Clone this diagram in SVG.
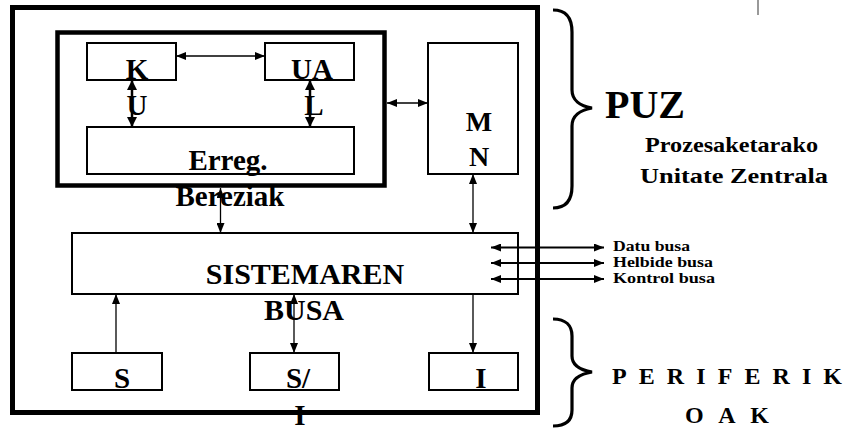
<svg xmlns="http://www.w3.org/2000/svg" width="847" height="429" viewBox="0 0 847 429">
<style>
.box{fill:#fff;stroke:#000;stroke-width:2}
.t{font-family:"Liberation Serif","Times New Roman",serif;font-weight:bold;fill:#000}
.big{font-size:29px;text-anchor:middle}
.mid{font-size:28px;text-anchor:middle}
.sm{font-size:14px}
.conn{stroke:#000;stroke-width:1.3;fill:none}
.heavy{stroke:#000;stroke-width:2.5;fill:none}
.brace{stroke:#000;stroke-width:3.2;fill:none}
</style>
<defs>
<marker id="ah" markerUnits="userSpaceOnUse" viewBox="0 0 10 8" refX="10" refY="4" markerWidth="10" markerHeight="8" orient="auto-start-reverse"><path d="M0,0 L10,4 L0,8 Z" fill="#000"/></marker>
<marker id="ahh" markerUnits="userSpaceOnUse" viewBox="0 0 10 10" refX="10" refY="5" markerWidth="11" markerHeight="10" orient="auto-start-reverse"><path d="M0,0 L10,5 L0,10 Z" fill="#000"/></marker>
</defs>
<rect width="847" height="429" fill="#fff"/>
<line x1="758" y1="0" x2="758" y2="15" stroke="#777" stroke-width="1.5"/>

<g id="outer"><rect x="12.5" y="7.5" width="525" height="405" fill="none" stroke="#000" stroke-width="5"/></g>
<g id="cpu"><rect x="57.5" y="32.5" width="327" height="153" fill="none" stroke="#000" stroke-width="4.5"/></g>

<g id="KU"><rect class="box" x="87" y="43" width="89" height="37"/></g>
<g id="UAL"><rect class="box" x="265" y="43" width="89" height="37"/></g>
<g id="Erreg"><rect class="box" x="87" y="127" width="267" height="47"/></g>
<g id="MN"><rect class="box" x="428" y="43" width="90" height="131"/></g>
<g id="Bus"><rect class="box" x="72" y="233" width="446" height="61"/></g>
<g id="S"><rect class="box" x="72" y="353" width="90" height="37"/></g>
<g id="SI"><rect class="box" x="250" y="353" width="89" height="37"/></g>
<g id="I"><rect class="box" x="429" y="353" width="89" height="37"/></g>

<g id="connectors">
<line class="conn" x1="176" y1="56" x2="265" y2="56" marker-start="url(#ah)" marker-end="url(#ah)"/>
<line class="heavy" x1="132" y1="80" x2="132" y2="127" marker-start="url(#ahh)" marker-end="url(#ahh)"/>
<line class="heavy" x1="310" y1="80" x2="310" y2="127" marker-start="url(#ahh)" marker-end="url(#ahh)"/>
<line class="conn" x1="387" y1="103" x2="428" y2="103" marker-start="url(#ah)" marker-end="url(#ah)"/>
<line class="conn" x1="220.5" y1="188" x2="220.5" y2="233" marker-start="url(#ah)" marker-end="url(#ah)"/>
<line class="conn" x1="473" y1="174" x2="473" y2="233" marker-start="url(#ah)" marker-end="url(#ah)"/>
<line class="conn" x1="116" y1="353" x2="116" y2="294" marker-end="url(#ah)"/>
<line class="conn" x1="294" y1="294" x2="294" y2="353" marker-start="url(#ah)" marker-end="url(#ah)"/>
<line class="conn" x1="473" y1="294" x2="473" y2="353" marker-end="url(#ah)"/>
<line class="heavy" style="stroke-width:2" x1="491" y1="247.5" x2="604" y2="247.5" marker-start="url(#ah)" marker-end="url(#ah)"/>
<line class="heavy" style="stroke-width:2" x1="491" y1="263" x2="604" y2="263" marker-start="url(#ah)" marker-end="url(#ah)"/>
<line class="heavy" style="stroke-width:2" x1="491" y1="279" x2="604" y2="279" marker-start="url(#ah)" marker-end="url(#ah)"/>
</g>

<g id="labels">
<text class="t big" x="137" y="79">K</text>
<text class="t big" x="137" y="115">U</text>
<text class="t big" x="312" y="79">UA</text>
<text class="t big" x="314" y="115">L</text>
<text class="t big" x="228" y="170">Erreg.</text>
<text class="t big" x="230" y="206">Bereziak</text>
<text class="t mid" x="479" y="131">M</text>
<text class="t mid" x="479" y="166">N</text>
<text class="t big" style="font-size:30px" x="305" y="284">SISTEMAREN</text>
<text class="t big" style="font-size:30px" x="304" y="320">BUSA</text>
<text class="t big" x="122" y="388">S</text>
<text class="t big" x="298" y="388">S/</text>
<text class="t big" x="300" y="425">I</text>
<text class="t big" x="481" y="388">I</text>
<text class="t sm" x="613" y="251" textLength="77" lengthAdjust="spacingAndGlyphs">Datu busa</text>
<text class="t sm" x="613" y="267" textLength="100" lengthAdjust="spacingAndGlyphs">Helbide busa</text>
<text class="t sm" x="613" y="283" textLength="102" lengthAdjust="spacingAndGlyphs">Kontrol busa</text>
</g>

<g id="PUZ">
<path class="brace" d="M553,10 C566,10 572,18 572,32 L572,90 C572,100 580,106 592,108 C580,110 572,116 572,126 L572,186 C572,200 566,208 553,208"/>
<text class="t" style="font-size:40px" x="605" y="118">PUZ</text>
<text class="t" style="font-size:22px" x="645" y="152" textLength="173" lengthAdjust="spacingAndGlyphs">Prozesaketarako</text>
<text class="t" style="font-size:22px" x="640" y="183" textLength="188" lengthAdjust="spacingAndGlyphs">Unitate Zentrala</text>
</g>

<g id="Periferikoak">
<path class="brace" d="M553,319 C566,319 572,326 572,336 L572,356 C572,365 580,370 592,372 C580,374 572,379 572,388 L572,410 C572,420 566,426 553,426"/>
<text class="t" style="font-size:24px" x="612" y="384" textLength="230" lengthAdjust="spacing">PERIFERIK</text>
<text class="t" style="font-size:24px" x="685" y="423" textLength="84" lengthAdjust="spacing">OAK</text>
</g>
</svg>
